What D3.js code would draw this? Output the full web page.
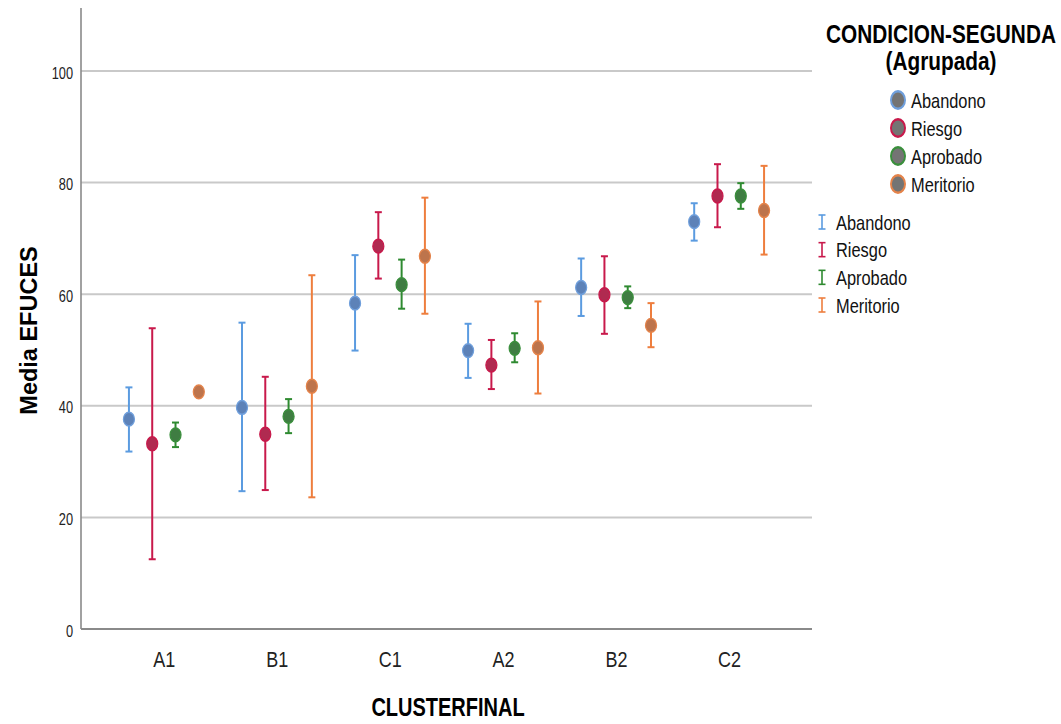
<!DOCTYPE html>
<html>
<head>
<meta charset="utf-8">
<script src="https://cdn.jsdelivr.net/npm/d3@7"></script>
<style>
  body { margin: 0; background: #fff; }
  svg { display: block; }
  text { font-family: Arial, "Liberation Sans", sans-serif; }
</style>
</head>
<body>
<svg id="chart" width="1061" height="724"></svg>
<script>
// Categories and groups
const clusters = ["A1", "B1", "C1", "A2", "B2", "C2"];
const groups = ["Abandono", "Riesgo", "Aprobado", "Meritorio"];
const yTicks = [0, 20, 40, 60, 80, 100];

// Mean EFUCES per cluster (A1, B1, C1, A2, B2, C2) and 95% CI bounds
const meanAbandono  = [37.6, 39.7, 58.4, 49.9, 61.2, 73.0];
const lowAbandono   = [31.8, 24.7, 49.9, 45.0, 56.1, 69.6];
const highAbandono  = [43.3, 54.9, 67.0, 54.7, 66.4, 76.3];

const meanRiesgo    = [33.2, 34.9, 68.6, 47.3, 59.9, 77.6];
const lowRiesgo     = [12.5, 24.9, 62.8, 43.0, 52.9, 72.0];
const highRiesgo    = [53.9, 45.2, 74.7, 51.8, 66.8, 83.3];

const meanAprobado  = [34.8, 38.1, 61.7, 50.3, 59.4, 77.6];
const lowAprobado   = [32.6, 35.1, 57.4, 47.8, 57.5, 75.3];
const highAprobado  = [37.0, 41.2, 66.2, 53.0, 61.4, 79.9];

const meanMeritorio = [42.5, 43.5, 66.8, 50.4, 54.4, 75.0];
const lowMeritorio  = [null, 23.6, 56.5, 42.2, 50.5, 67.1];
const highMeritorio = [null, 63.4, 77.3, 58.7, 58.4, 83.0];

const series = [
  { name: "Abandono",  mean: meanAbandono,  low: lowAbandono,  high: highAbandono,
    bar: "#5b9be0", dot: "#5d82b8", ring: "#6f9fdc" },
  { name: "Riesgo",    mean: meanRiesgo,    low: lowRiesgo,    high: highRiesgo,
    bar: "#c8194b", dot: "#b02a50", ring: "#c8194b" },
  { name: "Aprobado",  mean: meanAprobado,  low: lowAprobado,  high: highAprobado,
    bar: "#2e8a30", dot: "#3f7d42", ring: "#3a8f3c" },
  { name: "Meritorio", mean: meanMeritorio, low: lowMeritorio, high: highMeritorio,
    bar: "#ee7e3e", dot: "#bd744c", ring: "#e4834a" }
];

// The chart is laid out in a horizontally condensed frame
const sx = 0.8;
const vx = px => px / sx;

const plot = { left: 81, right: 812, top: 8, bottom: 629 };

const svg = d3.select("#chart");
const root = svg.append("g").attr("transform", `scale(${sx},1)`);

// Scales
const y = d3.scaleLinear()
  .domain([0, 100])
  .range([plot.bottom, 71]);

const x = d3.scalePoint()
  .domain(clusters)
  .range([vx(plot.left), vx(plot.right)])
  .padding(0.733);

const step = x.step();
const inner = d3.scaleBand()
  .domain(groups)
  .range([-0.412 * step, 0.412 * step]);

// Gridlines
root.append("g")
  .selectAll("line")
  .data(yTicks.filter(d => d > 0))
  .join("line")
  .attr("x1", vx(plot.left))
  .attr("x2", vx(plot.right))
  .attr("y1", d => y(d))
  .attr("y2", d => y(d))
  .attr("stroke", "#c9c9c9")
  .attr("stroke-width", 2);

// Y axis
const yAxis = d3.axisLeft(y).tickValues(yTicks).tickSize(0).tickPadding(vx(8));
const gy = root.append("g")
  .attr("transform", `translate(${vx(plot.left)},2)`)
  .call(yAxis);
gy.select(".domain").remove();
gy.selectAll("text")
  .attr("font-size", 16)
  .attr("fill", "#222");
root.append("line")
  .attr("x1", vx(plot.left)).attr("x2", vx(plot.left))
  .attr("y1", plot.top).attr("y2", plot.bottom)
  .attr("stroke", "#8a8a8a").attr("stroke-width", 2);

// X axis
const xAxis = d3.axisBottom(x).tickSize(0).tickPadding(22);
const gx = root.append("g")
  .attr("transform", `translate(0,${plot.bottom})`)
  .call(xAxis);
gx.select(".domain").remove();
gx.selectAll("text")
  .attr("font-size", 22.5)
  .attr("fill", "#222");
root.append("line")
  .attr("x1", vx(plot.left)).attr("x2", vx(plot.right))
  .attr("y1", plot.bottom).attr("y2", plot.bottom)
  .attr("stroke", "#8a8a8a").attr("stroke-width", 2);

// Axis titles
root.append("text")
  .attr("x", vx(448)).attr("y", 716)
  .attr("text-anchor", "middle")
  .attr("font-size", 25).attr("font-weight", "bold")
  .text("CLUSTERFINAL");

svg.append("text")
  .attr("transform", `translate(37,${y(53.5)}) rotate(-90)`)
  .attr("text-anchor", "middle")
  .attr("font-size", 23.5).attr("font-weight", "bold")
  .text("Media EFUCES");

// Error bars and means
const capHalf = vx(3.5);
series.forEach(s => {
  const g = root.append("g");
  const pts = clusters.map((c, i) => ({
    cx: x(c) + inner(s.name) + inner.bandwidth() / 2,
    mean: s.mean[i], low: s.low[i], high: s.high[i]
  }));
  const withCI = pts.filter(p => p.low != null && p.high != null);

  g.selectAll("line.ci").data(withCI).join("line").attr("class", "ci")
    .attr("x1", p => p.cx).attr("x2", p => p.cx)
    .attr("y1", p => y(p.low)).attr("y2", p => y(p.high))
    .attr("stroke", s.bar).attr("stroke-width", vx(2));

  g.selectAll("line.capH").data(withCI).join("line").attr("class", "capH")
    .attr("x1", p => p.cx - capHalf).attr("x2", p => p.cx + capHalf)
    .attr("y1", p => y(p.high)).attr("y2", p => y(p.high))
    .attr("stroke", s.bar).attr("stroke-width", 2);

  g.selectAll("line.capL").data(withCI).join("line").attr("class", "capL")
    .attr("x1", p => p.cx - capHalf).attr("x2", p => p.cx + capHalf)
    .attr("y1", p => y(p.low)).attr("y2", p => y(p.low))
    .attr("stroke", s.bar).attr("stroke-width", 2);

  g.selectAll("circle").data(pts).join("circle")
    .attr("cx", p => p.cx).attr("cy", p => y(p.mean))
    .attr("r", 6.9)
    .attr("fill", s.dot)
    .attr("stroke", s.ring).attr("stroke-width", 1.5);
});

// Legend
const leg = root.append("g");
leg.append("text")
  .attr("x", vx(941)).attr("y", 43)
  .attr("text-anchor", "middle")
  .attr("font-size", 26).attr("font-weight", "bold")
  .text("CONDICION-SEGUNDA");
leg.append("text")
  .attr("x", vx(941)).attr("y", 70)
  .attr("text-anchor", "middle")
  .attr("font-size", 26).attr("font-weight", "bold")
  .text("(Agrupada)");

const legY = d3.scalePoint().domain(groups).range([100, 184]);
const dots = leg.selectAll("g.ldot").data(series).join("g").attr("class", "ldot")
  .attr("transform", s => `translate(${vx(898)},${legY(s.name)})`);
dots.append("circle")
  .attr("r", 8.8)
  .attr("fill", "#747474")
  .attr("stroke", s => s.ring)
  .attr("stroke-width", 2.4);
dots.append("text")
  .attr("x", vx(13)).attr("y", 7.5)
  .attr("font-size", 20.5).attr("fill", "#111")
  .text(s => s.name);

const legY2 = d3.scalePoint().domain(groups).range([222, 305]);
const bars = leg.selectAll("g.lbar").data(series).join("g").attr("class", "lbar")
  .attr("transform", s => `translate(${vx(822)},${legY2(s.name)})`);
bars.append("line")
  .attr("x1", 0).attr("x2", 0).attr("y1", -7).attr("y2", 7)
  .attr("stroke", s => s.bar).attr("stroke-width", vx(1.6));
bars.append("line")
  .attr("x1", -capHalf).attr("x2", capHalf).attr("y1", -7).attr("y2", -7)
  .attr("stroke", s => s.bar).attr("stroke-width", 1.6);
bars.append("line")
  .attr("x1", -capHalf).attr("x2", capHalf).attr("y1", 7).attr("y2", 7)
  .attr("stroke", s => s.bar).attr("stroke-width", 1.6);
bars.append("text")
  .attr("x", vx(14)).attr("y", 7.5)
  .attr("font-size", 20.5).attr("fill", "#111")
  .text(s => s.name);
</script>
</body>
</html>
